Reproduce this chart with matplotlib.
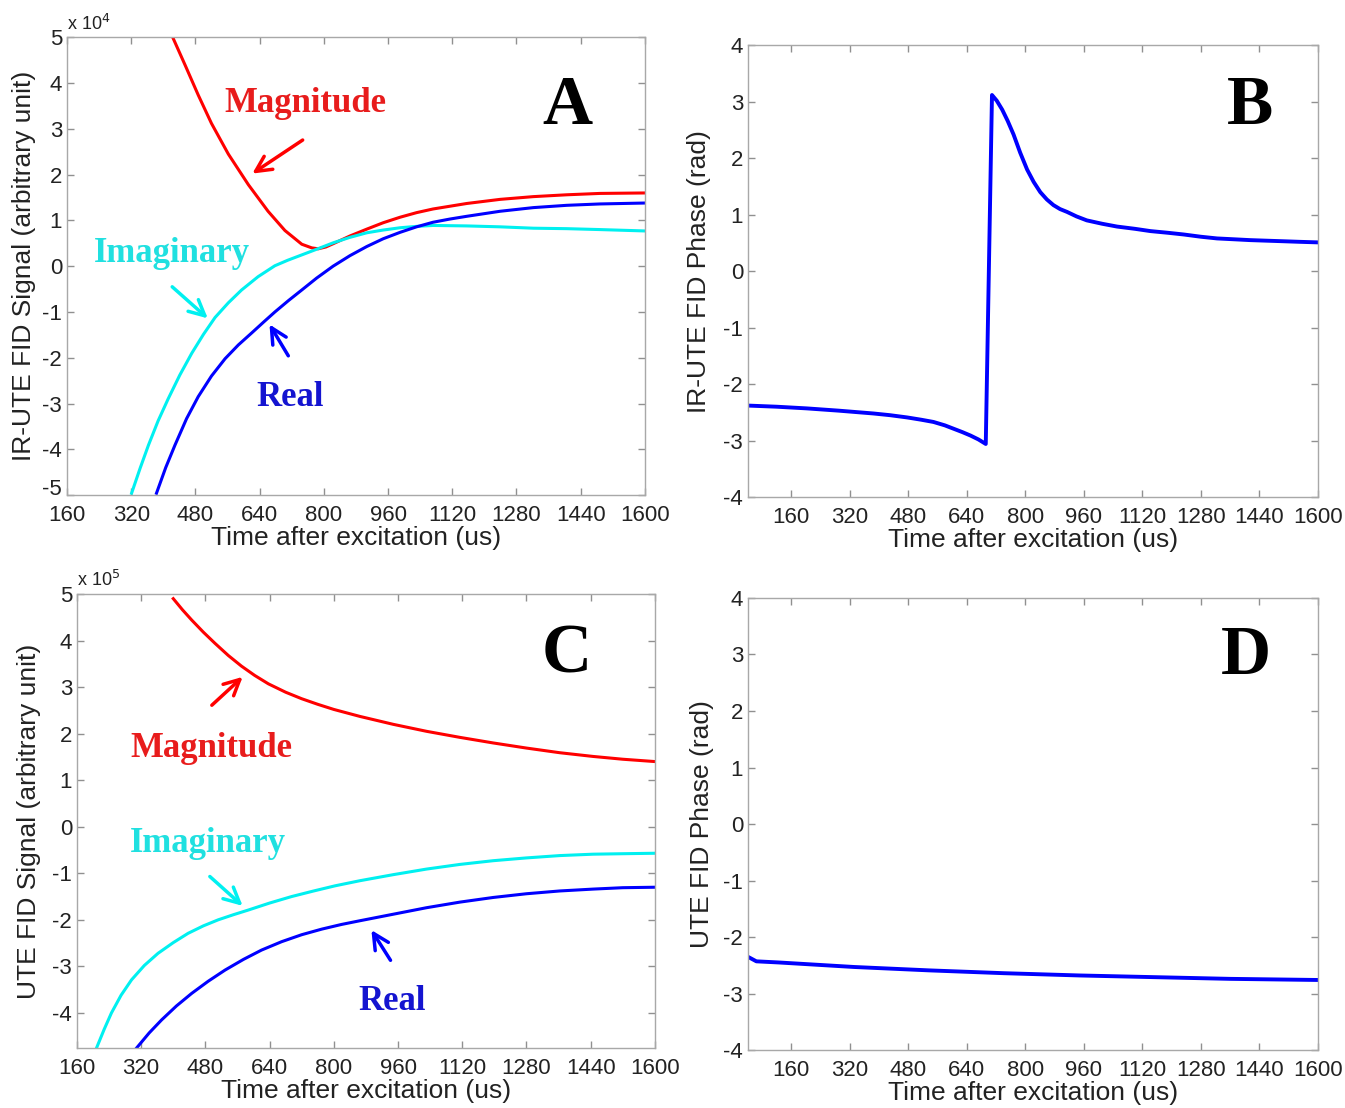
import matplotlib
matplotlib.use("Agg")
import matplotlib.pyplot as plt

# panel A: IR-UTE FID signal (units of 1e4)
a_mag_t = [425, 454, 487, 520, 562, 612, 661, 703, 745, 770, 786, 805, 823, 865, 907, 948, 990, 1031, 1072,
           1114, 1156, 1239, 1322, 1405, 1488, 1600]
a_mag_v = [4.97, 4.40, 3.74, 3.12, 2.45, 1.78, 1.20, 0.78, 0.48, 0.40, 0.38, 0.42, 0.49, 0.66, 0.81, 0.95, 1.07,
           1.17, 1.25, 1.31, 1.37, 1.46, 1.52, 1.56, 1.59, 1.60]
a_imag_t = [321, 342, 363, 387, 412, 441, 471, 500, 529, 562, 595, 636, 678, 710, 740, 782, 823, 865, 907, 948,
            990, 1031, 1072, 1156, 1239, 1322, 1405, 1488, 1600]
a_imag_v = [-4.96, -4.42, -3.91, -3.38, -2.90, -2.38, -1.90, -1.49, -1.12, -0.80, -0.52, -0.23, 0.01, 0.13, 0.23,
            0.37, 0.51, 0.63, 0.73, 0.79, 0.84, 0.87, 0.89, 0.88, 0.86, 0.83, 0.82, 0.80, 0.77]
a_real_t = [383, 406, 429, 458, 487, 520, 554, 587, 620, 650, 678, 712, 745, 782, 823, 865, 907, 948, 990, 1031,
            1072, 1114, 1156, 1239, 1322, 1405, 1488, 1600]
a_real_v = [-4.96, -4.40, -3.91, -3.33, -2.85, -2.40, -2.02, -1.72, -1.46, -1.22, -1.00, -0.75, -0.52, -0.26, 0.0,
            0.23, 0.43, 0.60, 0.74, 0.86, 0.96, 1.03, 1.09, 1.20, 1.28, 1.33, 1.36, 1.38]

# panel B: IR-UTE FID phase (rad)
b_t = [42, 120, 203, 290, 385, 430, 477, 515, 549, 580, 604, 628, 650, 672, 692, 709, 722, 737, 752, 768, 786,
       805, 823, 841, 859, 877, 895, 914, 940, 968, 1010, 1051, 1100, 1142, 1190, 1233, 1280, 1324, 1370, 1415,
       1460, 1506, 1550, 1600]
b_v = [-2.38, -2.40, -2.43, -2.47, -2.52, -2.55, -2.59, -2.63, -2.67, -2.73, -2.79, -2.85, -2.91, -2.98, -3.06,
       3.12, 3.02, 2.86, 2.66, 2.42, 2.10, 1.80, 1.58, 1.40, 1.27, 1.17, 1.10, 1.05, 0.97, 0.90, 0.84, 0.79, 0.75,
       0.71, 0.68, 0.65, 0.61, 0.58, 0.565, 0.55, 0.54, 0.53, 0.52, 0.51]

# panel C: UTE FID signal (units of 1e5)
c_mag_t = [400, 423, 446, 475, 504, 537, 570, 603, 637, 680, 720, 760, 800, 865, 948, 1031, 1114, 1197, 1280,
           1363, 1446, 1520, 1600]
c_mag_v = [4.90, 4.66, 4.44, 4.18, 3.94, 3.68, 3.45, 3.25, 3.07, 2.89, 2.75, 2.63, 2.52, 2.37, 2.20, 2.05, 1.92,
           1.80, 1.69, 1.59, 1.51, 1.45, 1.40]
c_imag_t = [209, 228, 246, 270, 296, 328, 362, 400, 437, 475, 512, 550, 587, 640, 695, 750, 803, 865, 948, 1031,
            1114, 1197, 1280, 1363, 1446, 1520, 1600]
c_imag_v = [-4.75, -4.35, -4.00, -3.62, -3.29, -2.98, -2.72, -2.49, -2.29, -2.13, -2.00, -1.89, -1.79, -1.64,
            -1.50, -1.38, -1.27, -1.16, -1.03, -0.91, -0.81, -0.73, -0.67, -0.62, -0.59, -0.58, -0.57]
c_real_t = [309, 340, 371, 408, 446, 487, 529, 575, 620, 670, 720, 770, 819, 865, 948, 1031, 1114, 1197, 1280,
            1363, 1446, 1520, 1600]
c_real_v = [-4.75, -4.43, -4.15, -3.85, -3.58, -3.32, -3.08, -2.85, -2.65, -2.47, -2.32, -2.20, -2.10, -2.02,
            -1.88, -1.74, -1.62, -1.52, -1.44, -1.38, -1.34, -1.31, -1.30]

# panel D: UTE FID phase (rad)
d_t = [42, 65, 126, 332, 537, 742, 948, 1153, 1359, 1600]
d_v = [-2.35, -2.43, -2.45, -2.53, -2.59, -2.64, -2.68, -2.71, -2.74, -2.76]

x_ticks = [160, 320, 480, 640, 800, 960, 1120, 1280, 1440, 1600]

RED = "#ff0000"
CYAN = "#00f0f0"
BLUE = "#0000ff"
TXT_RED = "#e81c1c"
TXT_CYAN = "#20e0e0"
TXT_BLUE = "#1414d0"
INK = "#222222"

plt.rcParams["font.family"] = ["Liberation Sans", "DejaVu Sans"]
plt.rcParams["axes.unicode_minus"] = False
SERIF = ["Liberation Serif", "DejaVu Serif"]


def style_axes(ax, ylabel, ylab_x):
    for sp in ax.spines.values():
        sp.set_color("#a8a8a8")
        sp.set_linewidth(1.0)
    ax.tick_params(direction="in", length=5, width=1, color="#909090",
                   top=True, right=True, labelsize=16, labelcolor=INK)
    ax.tick_params(axis="x", pad=7)
    ax.set_xticks(x_ticks)
    ax.set_xticklabels([str(t) for t in x_ticks])
    ax.set_xlabel("Time after excitation (us)", fontsize=19, color=INK, labelpad=0)
    ax.set_ylabel(ylabel, fontsize=19, color=INK)
    ax.yaxis.set_label_coords(ylab_x, 0.5)


def label(ax, text, xy, color):
    ax.text(xy[0], xy[1], text, color=color, fontsize=25, fontweight="bold",
            family=SERIF, ha="center", va="center")


def arrow(ax, tail, head, color):
    ax.annotate("", xy=head, xytext=tail,
                arrowprops=dict(arrowstyle="->", color=color, lw=2.5, mutation_scale=28))


def panel_letter(ax, letter, xy):
    ax.text(xy[0], xy[1], letter, fontsize=50, fontweight="bold", family=SERIF,
            ha="center", va="center", color="black")


fig = plt.figure(figsize=(13.45, 11.08), dpi=100)
ax_a = fig.add_axes([0.0498, 0.5532, 0.4297, 0.4131])
ax_b = fig.add_axes([0.5561, 0.5514, 0.4238, 0.4077])
ax_c = fig.add_axes([0.0572, 0.0539, 0.4297, 0.4100])
ax_d = fig.add_axes([0.5561, 0.0523, 0.4238, 0.4080])

# A
ax_a.plot(a_mag_t, a_mag_v, color=RED, lw=2.2)
ax_a.plot(a_imag_t, a_imag_v, color=CYAN, lw=2.2)
ax_a.plot(a_real_t, a_real_v, color=BLUE, lw=2.2)
ax_a.set_xlim(160, 1600)
ax_a.set_ylim(-5, 5)
ax_a.set_yticks(range(-5, 6))
ax_a.set_yticklabels([str(v) for v in range(-5, 6)])
ax_a.get_yticklabels()[0].set_va("baseline")  # keep "-5" clear of the "160" below it
style_axes(ax_a, "IR-UTE FID Signal (arbitrary unit)", -0.054)
ax_a.text(0.0, 1.008, r"x 10$^4$", transform=ax_a.transAxes, fontsize=13,
          color=INK, ha="left", va="bottom")
label(ax_a, "Magnitude", (753, 3.56), TXT_RED)
arrow(ax_a, (753, 2.79), (616, 1.99), RED)
label(ax_a, "Imaginary", (422, 0.28), TXT_CYAN)
arrow(ax_a, (417, -0.41), (516, -1.18), CYAN)
label(ax_a, "Real", (715, -2.86), TXT_BLUE)
arrow(ax_a, (715, -2.01), (661, -1.22), BLUE)
panel_letter(ax_a, "A", (1408, 3.47))

# B
ax_b.plot(b_t, b_v, color=BLUE, lw=2.8)
ax_b.set_xlim(42, 1600)
ax_b.set_ylim(-4, 4)
ax_b.set_yticks(range(-4, 5))
style_axes(ax_b, "IR-UTE FID Phase (rad)", -0.065)
panel_letter(ax_b, "B", (1415, 2.91))

# C
ax_c.plot(c_mag_t, c_mag_v, color=RED, lw=2.2)
ax_c.plot(c_imag_t, c_imag_v, color=CYAN, lw=2.2)
ax_c.plot(c_real_t, c_real_v, color=BLUE, lw=2.2)
ax_c.set_xlim(160, 1600)
ax_c.set_ylim(-4.76, 5)
ax_c.set_yticks(range(-4, 6))
style_axes(ax_c, "UTE FID Signal (arbitrary unit)", -0.062)
ax_c.text(0.0, 1.008, r"x 10$^5$", transform=ax_c.transAxes, fontsize=13,
          color=INK, ha="left", va="bottom")
label(ax_c, "Magnitude", (496, 1.69), TXT_RED)
arrow(ax_c, (491, 2.57), (578, 3.26), RED)
label(ax_c, "Imaginary", (486, -0.35), TXT_CYAN)
arrow(ax_c, (486, -1.03), (578, -1.74), CYAN)
label(ax_c, "Real", (945, -3.76), TXT_BLUE)
arrow(ax_c, (945, -2.92), (890, -2.17), BLUE)
panel_letter(ax_c, "C", (1381, 3.68))

# D
ax_d.plot(d_t, d_v, color=BLUE, lw=2.8)
ax_d.set_xlim(42, 1600)
ax_d.set_ylim(-4, 4)
ax_d.set_yticks(range(-4, 5))
style_axes(ax_d, "UTE FID Phase (rad)", -0.060)
panel_letter(ax_d, "D", (1402, 2.96))

fig.savefig("out.png", dpi=100)
plt.close(fig)
